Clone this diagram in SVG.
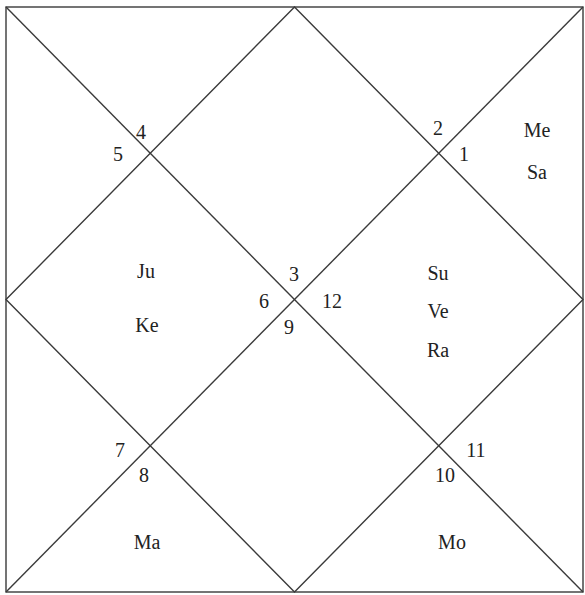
<svg xmlns="http://www.w3.org/2000/svg" width="585" height="595" viewBox="0 0 585 595">
<style>
.ln{stroke:#3a3a3a;stroke-width:1.4;fill:none}
text{font-family:"Liberation Serif","Times New Roman",serif;font-size:20px;fill:#222;text-anchor:middle}
</style>
<rect width="585" height="595" fill="#ffffff"/>
<g id="connectors">
<rect class="ln" x="6" y="7" width="577" height="585"/>
<line class="ln" x1="6" y1="7" x2="583" y2="592"/>
<line class="ln" x1="583" y1="7" x2="6" y2="592"/>
<polygon class="ln" points="294.5,7 583,299.5 294.5,592 6,299.5"/>
</g>
<g id="house1"><text x="464" y="161">1</text><text x="537" y="137">Me</text><text x="537" y="179">Sa</text></g>
<g id="house2"><text x="438" y="135">2</text></g>
<g id="house3"><text x="294" y="281">3</text></g>
<g id="house4"><text x="141" y="139">4</text></g>
<g id="house5"><text x="118" y="161">5</text></g>
<g id="house6"><text x="264" y="308">6</text><text x="146" y="278">Ju</text><text x="147" y="332">Ke</text></g>
<g id="house7"><text x="120" y="457">7</text></g>
<g id="house8"><text x="144" y="482">8</text><text x="147" y="549">Ma</text></g>
<g id="house9"><text x="289" y="334">9</text></g>
<g id="house10"><text x="445" y="482">10</text><text x="452" y="549">Mo</text></g>
<g id="house11"><text x="476" y="457">11</text></g>
<g id="house12"><text x="332" y="308">12</text><text x="438" y="280">Su</text><text x="438" y="318">Ve</text><text x="438" y="357">Ra</text></g>
</svg>
